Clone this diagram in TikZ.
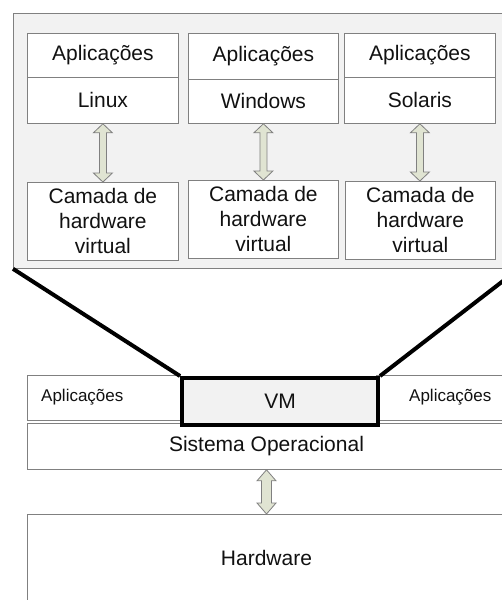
\documentclass[tikz,border=0pt]{standalone}
\usepackage{fontspec}
\setmainfont{Liberation Sans}
\usetikzlibrary{calc}
\definecolor{bfill}{HTML}{F2F2F2}
\definecolor{bline}{HTML}{808080}
\definecolor{afill}{HTML}{E0E4D2}
\definecolor{txt}{HTML}{111111}
\newcommand\dblarr[5]{%
  \path[draw=bline, fill=afill, line width=0.8pt] let \p1=(#1), \p2=(#2) in
    (\x1,\y1) -- (\x1+#3,\y1-#5) -- (\x1+#4,\y1-#5) -- (\x1+#4,\y2+#5) -- (\x1+#3,\y2+#5)
    -- (\x1,\y2) -- (\x1-#3,\y2+#5) -- (\x1-#4,\y2+#5) -- (\x1-#4,\y1-#5) -- (\x1-#3,\y1-#5) -- cycle;}
\begin{document}
\begin{tikzpicture}[x=1pt,y=-1pt,
  box/.style={draw=bline, fill=white, line width=0.8pt, inner sep=0pt, anchor=north west,
    text=txt, font=\fontsize{21}{25}\selectfont, align=center},
  big/.style={text=txt, font=\fontsize{21}{25}\selectfont, inner sep=0pt},
  small/.style={text=txt, font=\fontsize{17}{20}\selectfont, inner sep=0pt}]
\useasboundingbox (0,0) rectangle (502,600);
\clip (0,0) rectangle (502,600);
% magnified view of the VM
\node[draw=bline, fill=bfill, line width=0.8pt, inner sep=0pt, anchor=north west,
  minimum width=505pt, minimum height=255pt] (view) at (13,13) {};
% Linux
\node[box, minimum width=151pt, minimum height=44pt] (appL) at (27,33) {Aplicações};
\node[box, minimum width=151pt, minimum height=46pt] (osL) at (27,77) {Linux};
\node[box, minimum width=151pt, minimum height=78pt] (hwL) at (27,182) {Camada de\\hardware\\virtual};
% Windows
\node[box, minimum width=150pt, minimum height=46pt] (appW) at (188,33) {Aplicações};
\node[box, minimum width=150pt, minimum height=44pt] (osW) at (188,79) {Windows};
\node[box, minimum width=150pt, minimum height=78pt] (hwW) at (188,180) {Camada de\\hardware\\virtual};
% Solaris
\node[box, minimum width=151pt, minimum height=44pt] (appS) at (344,33) {Aplicações};
\node[box, minimum width=151pt, minimum height=46pt] (osS) at (344,77) {Solaris};
\node[box, minimum width=150pt, minimum height=78pt] (hwS) at (345,181) {Camada de\\hardware\\virtual};
% arrows in the view
\dblarr{osL.south}{hwL.north}{9.5pt}{3.5pt}{9pt}
\dblarr{osW.south}{hwW.north}{9.5pt}{3.5pt}{9pt}
\dblarr{osS.south}{hwS.north}{9.5pt}{3.5pt}{9pt}
% host stack
\node[box, minimum width=153pt, minimum height=45pt] (appA) at (27,375) {};
\node[small, anchor=west] (appAt) at (41,397.5) {Aplicações};
\node[box, minimum width=150pt, minimum height=45pt] (appB) at (376,375) {};
\node[small, anchor=west] (appBt) at (409,397.5) {Aplicações};
\node[box, minimum width=500pt, minimum height=46pt] (so) at (27,423) {};
\node[big] (sot) at (266.5,446) {Sistema Operacional};
\node[box, minimum width=500pt, minimum height=120pt] (hw) at (27,514) {};
\node[big] (hwt) at (266.5,558) {Hardware};
\node[box, draw=black, fill=bfill, line width=4pt, minimum width=196pt, minimum height=47pt] (vm) at (180,376) {VM};
\dblarr{sot.south |- so.south}{sot.south |- hw.north}{9.5pt}{5pt}{11pt}
% zoom lines
\draw[line width=4pt] (view.south west) -- (vm.north west);
\draw[line width=4pt] (view.south east) -- (vm.north east);
\end{tikzpicture}
\end{document}
